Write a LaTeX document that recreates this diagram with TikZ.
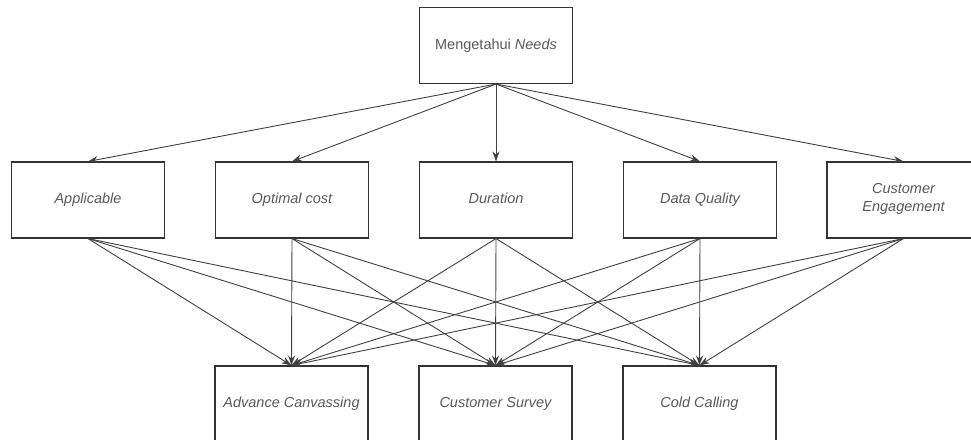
\documentclass[tikz,border=0pt]{standalone}
\usepackage{fontspec}
\setmainfont{Liberation Sans}
\usetikzlibrary{arrows.meta}

\begin{document}
\begin{tikzpicture}[x=1pt,y=-1pt,
    box/.style={draw=black!80, line width=1.1pt, minimum width=153pt, minimum height=76pt,
      inner sep=2pt, align=center, text=black!65, font=\fontsize{14.5}{18}\selectfont},
    slanted/.style={box, font=\fontsize{14.5}{18}\selectfont\itshape},
    link/.style={draw=black!75, line width=0.9pt, -{Stealth[length=10pt,width=7pt]}}]

    % Keep the frame of the picture
    \clip (0,0) rectangle (971,439);
    % Goal on top
    \node[box] (goal) at (496,45.5) {Mengetahui \textit{Needs}\strut};
    % Criteria
    \foreach \x/\name/\txt in {88/crit1/Applicable, 292/crit2/Optimal cost, 496/crit3/Duration,
        700/crit4/Data Quality, 903.5/crit5/{Customer\\Engagement}}
    \node[slanted] (\name) at (\x,200) {\txt\strut};
    % Alternatives
    \foreach \x/\name/\txt in {291.5/alt1/Advance Canvassing, 495.5/alt2/Customer Survey,
        699.5/alt3/Cold Calling}
    \node[slanted] (\name) at (\x,404) {\txt\strut};

    % Goal to every criterion
    \foreach \c in {crit1,crit2,crit3,crit4,crit5}
    \draw[link] (goal.south) -- (\c.north);
    % Every criterion to every alternative
    \foreach \c in {crit1,crit2,crit3,crit4,crit5}
      \foreach \a in {alt1,alt2,alt3}
      \draw[link] (\c.south) -- (\a.north);

\end{tikzpicture}
\end{document}
